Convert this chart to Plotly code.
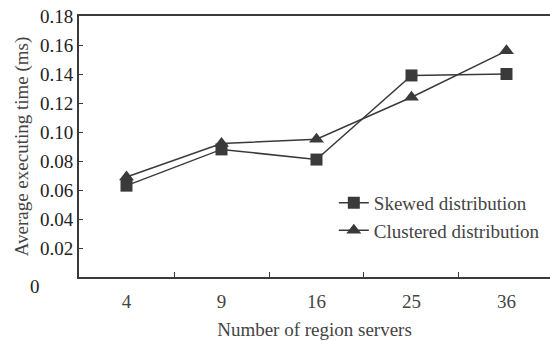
import plotly.graph_objects as go

servers = ["4", "9", "16", "25", "36"]
skewed = [0.063, 0.088, 0.081, 0.139, 0.140]
clustered = [0.069, 0.092, 0.095, 0.124, 0.156]
ytick_vals = [0.02, 0.04, 0.06, 0.08, 0.10, 0.12, 0.14, 0.16, 0.18]
ytick_text = ["0.02", "0.04", "0.06", "0.08", "0.10", "0.12", "0.14", "0.16", "0.18"]

FONT = "Liberation Serif, Times New Roman, serif"
LC = "#3a3a3a"
TC = "#444444"

def f(size=19, color=TC):
    return dict(family=FONT, size=size, color=color)

fig = go.Figure()
fig.add_trace(go.Scatter(x=servers, y=skewed, name="Skewed distribution",
                         mode="lines+markers",
                         line=dict(color=LC, width=1.5),
                         marker=dict(symbol="square", size=12, color=LC)))
fig.add_trace(go.Scatter(x=servers, y=clustered, name="Clustered distribution",
                         mode="lines+markers",
                         line=dict(color=LC, width=1.5),
                         marker=dict(symbol="triangle-up", size=13, color=LC)))

fig.update_layout(
    width=550, height=341,
    margin=dict(l=79, r=0, t=16, b=64),
    paper_bgcolor="white", plot_bgcolor="white",
    font=f(),
    showlegend=True,
    legend=dict(x=0.541, y=0.357, xanchor="left", yanchor="top",
                bgcolor="rgba(0,0,0,0)", font=f(),
                itemwidth=30, tracegroupgap=0),
    xaxis=dict(
        type="category", range=[-0.5, 4.458], automargin=False,
        showline=True, linecolor=LC, linewidth=2, mirror=True,
        ticks="inside", ticklen=5, tickcolor=LC, tickson="boundaries",
        showgrid=False, zeroline=False,
        tickfont=f(), ticklabelstandoff=6,
        title=dict(text="Number of region servers", font=f(), standoff=12),
    ),
    yaxis=dict(
        range=[0, 0.18], automargin=False,
        tickvals=ytick_vals, ticktext=ytick_text,
        showline=True, linecolor=LC, linewidth=2, mirror=False,
        ticks="inside", ticklen=4, tickcolor=LC,
        showgrid=False, zeroline=False,
        tickfont=f(color="#222"),
        title=dict(text="Average executing time (ms)", font=f(), standoff=6),
    ),
)
fig.add_annotation(text="0", xref="paper", yref="paper", x=-0.094, y=-0.038,
                   xanchor="center", yanchor="middle", showarrow=False,
                   font=f(color="#222"))

fig.write_html("out.html",
               config={"displayModeBar": False},
               post_script="document.body.style.margin='0';document.body.style.overflow='hidden';")
